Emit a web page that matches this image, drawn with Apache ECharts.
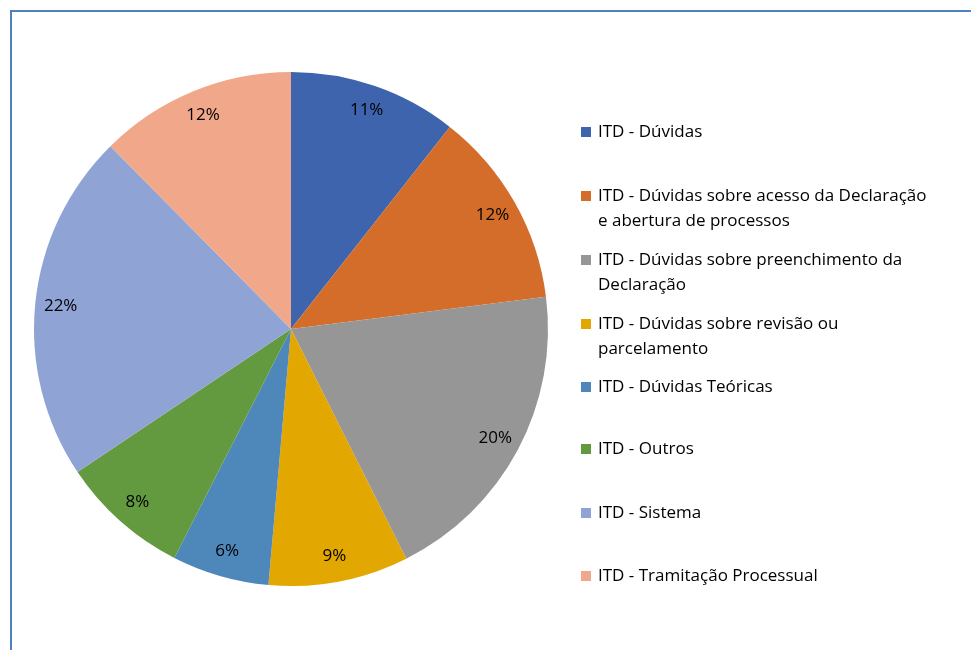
<!DOCTYPE html>
<html>
<head>
<meta charset="utf-8">
<script src="https://cdn.jsdelivr.net/npm/echarts@6/dist/echarts.min.js"></script>
<style>
  html, body { margin: 0; padding: 0; background: #fff; }
  #chart-container { width: 971px; height: 650px; }
</style>
</head>
<body>
<div id="chart-container"></div>
<script>
let categories = [
  'ITD - Dúvidas',
  'ITD - Dúvidas sobre acesso da Declaração e abertura de processos',
  'ITD - Dúvidas sobre preenchimento da Declaração',
  'ITD - Dúvidas sobre revisão ou parcelamento',
  'ITD - Dúvidas Teóricas',
  'ITD - Outros',
  'ITD - Sistema',
  'ITD - Tramitação Processual'
];
// legend text as wrapped in the picture
let legendLines = [
  ['ITD - Dúvidas'],
  ['ITD - Dúvidas sobre acesso da Declaração', 'e abertura de processos'],
  ['ITD - Dúvidas sobre preenchimento da', 'Declaração'],
  ['ITD - Dúvidas sobre revisão ou', 'parcelamento'],
  ['ITD - Dúvidas Teóricas'],
  ['ITD - Outros'],
  ['ITD - Sistema'],
  ['ITD - Tramitação Processual']
];
let shares = [10.6, 12.4, 19.6, 8.8, 6.1, 8.1, 22.0, 12.4];
let colors = ['#3d64ad', '#d46d29', '#969696', '#e2a700', '#4e88bb', '#639a3f', '#8fa3d5', '#f1a78a'];

function init() {
  let font = 'Open Sans';
  let lineH = 25;
  let legendY = [130, 194, 258, 322, 385, 447, 511, 574];

  let data = categories.map((name, i) => ({
    name,
    value: shares[i],
    itemStyle: { color: colors[i] }
  }));

  // one legend per entry so the spacing can follow the picture;
  // two-line entries get a blank first line so the icon sits on line one
  let legend = categories.map((name, i) => {
    let two = legendLines[i].length > 1;
    return {
      data: [name],
      left: 581,
      top: legendY[i] - (two ? lineH * 1.5 : lineH / 2) + 2,
      padding: 0,
      itemWidth: 10,
      itemHeight: 10,
      itemGap: 0,
      selectedMode: false,
      icon: 'rect',
      formatter: () => (two ? '\n' : '') + legendLines[i].join('\n'),
      textStyle: {
        fontFamily: font,
        fontSize: 17,
        color: '#000',
        lineHeight: lineH,
        padding: [0, 0, 0, 2]
      }
    };
  });

  let center = [291, 329];
  let option = {
    animation: false,
    legend,
    graphic: [{
      type: 'polyline',
      shape: { points: [[11, 660], [11, 11], [980, 11]] },
      style: { stroke: '#4f81bd', lineWidth: 2, fill: null },
      silent: true
    }],
    series: [
      {
        type: 'pie',
        center,
        radius: [0, 257],
        startAngle: 90,
        clockwise: true,
        label: { show: false },
        labelLine: { show: false },
        emphasis: { disabled: true },
        data
      },
      {
        // transparent ring only used to place the percent labels
        type: 'pie',
        center,
        radius: [200, 257],
        startAngle: 90,
        clockwise: true,
        silent: true,
        legendHoverLink: false,
        percentPrecision: 0,
        itemStyle: { color: 'rgba(0,0,0,0)' },
        label: {
          show: true,
          position: 'inside',
          formatter: '{d}%',
          fontFamily: font,
          fontSize: 17,
          color: '#000'
        },
        labelLine: { show: false },
        emphasis: { disabled: true },
        data: categories.map((name, i) => ({ name: name + ' ', value: shares[i] }))
      }
    ]
  };

  var myChart = echarts.init(document.getElementById('chart-container'));
  myChart.setOption(option);
}
init();
</script>
</body>
</html>
